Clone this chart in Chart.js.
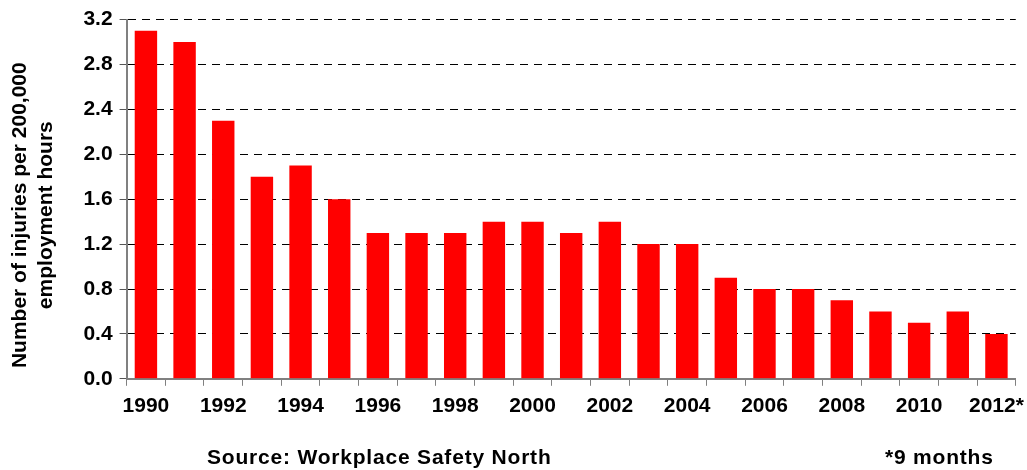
<!DOCTYPE html>
<html>
<head>
<meta charset="utf-8">
<script src="https://cdn.jsdelivr.net/npm/chart.js@4"></script>
<style>
  body { margin: 0; background: #fff; }
  #wrap { position: relative; width: 1027px; height: 470px; }
  .note { position: absolute; font: bold 21px "Liberation Sans", Arial, sans-serif; color: #000; letter-spacing: 0.8px; line-height: 24px; }
</style>
</head>
<body>
<div id="wrap">
  <canvas id="chart" width="1027" height="470"></canvas>
  <div class="note" style="left:207px; top:445px;">Source: Workplace Safety North</div>
  <div class="note" style="left:885px; top:445px;">*9 months</div>
</div>
<script>
const years = ['1990', '1991', '1992', '1993', '1994', '1995', '1996', '1997', '1998', '1999', '2000', '2001',
    '2002', '2003', '2004', '2005', '2006', '2007', '2008', '2009', '2010', '2011', '2012*'];
const injuryRates = [3.1, 3.0, 2.3, 1.8, 1.9, 1.6, 1.3, 1.3, 1.3, 1.4, 1.4, 1.3,
    1.4, 1.2, 1.2, 0.9, 0.8, 0.8, 0.7, 0.6, 0.5, 0.6, 0.4];
const yTicks = [0, 0.4, 0.8, 1.2, 1.6, 2.0, 2.4, 2.8, 3.2];
const yTitle = ['Number of injuries per 200,000', 'employment hours'];

const labelFont = { family: '"Liberation Sans", Arial, sans-serif', size: 21, weight: 'bold' };

// the axis title sits a bit below the middle of the axis in the original,
// so the built-in title only reserves the room and this draws the text
const yTitlePlugin = {
    id: 'yTitle',
    afterDraw(chart) {
        const scale = chart.scales.y;
        const c = chart.ctx;
        const lh = labelFont.size * 1.2;
        const cy = (chart.chartArea.top + chart.chartArea.bottom) / 2 + 16;
        c.save();
        c.fillStyle = '#000';
        c.font = 'bold 21px "Liberation Sans", Arial, sans-serif';
        c.textAlign = 'center';
        c.textBaseline = 'middle';
        yTitle.forEach((line, i) => {
            c.save();
            c.translate(scale.left + 2 + lh * (i + 0.5), cy);
            c.rotate(-Math.PI / 2);
            c.fillText(line, 0, 0);
            c.restore();
        });
        c.restore();
    }
};

const ctx = document.getElementById('chart').getContext('2d');
new Chart(ctx, {
    type: 'bar',
    data: {
        labels: years,
        datasets: [{
            data: injuryRates,
            backgroundColor: '#FF0000',
            borderWidth: 0,
            barPercentage: 0.58,
            categoryPercentage: 1.0
        }]
    },
    options: {
        responsive: false,
        animation: false,
        layout: { padding: { left: 6, right: 0, top: 8, bottom: 43 } },
        plugins: {
            legend: { display: false },
            tooltip: { enabled: false }
        },
        scales: {
            x: {
                // let "2012*" run a little past the end of the axis, as in the original
                afterFit: function (axis) {
                    axis.paddingRight = Math.max(0, axis.paddingRight - 5);
                },
                grid: {
                    drawOnChartArea: false,
                    color: '#808080',
                    tickLength: 7
                },
                border: { color: '#808080', width: 2 },
                ticks: {
                    autoSkip: false,
                    maxRotation: 0,
                    color: '#000',
                    font: labelFont,
                    padding: 8,
                    callback: function (value, index) {
                        return index % 2 === 0 ? this.getLabelForValue(value) : '';
                    }
                }
            },
            y: {
                min: yTicks[0],
                max: yTicks[yTicks.length - 1],
                afterBuildTicks: function (axis) {
                    axis.ticks = yTicks.map(v => ({ value: v }));
                },
                grid: {
                    color: '#000',
                    tickColor: '#555',
                    tickLength: 7
                },
                border: { color: '#808080', width: 2, dash: [8, 6] },
                ticks: {
                    color: '#000',
                    font: labelFont,
                    padding: 7,
                    callback: v => v.toFixed(1)
                },
                title: {
                    display: true,
                    text: yTitle,
                    color: 'rgba(0,0,0,0)',
                    font: labelFont,
                    padding: { top: 2, bottom: 18 }
                }
            }
        }
    },
    plugins: [yTitlePlugin]
});
</script>
</body>
</html>
